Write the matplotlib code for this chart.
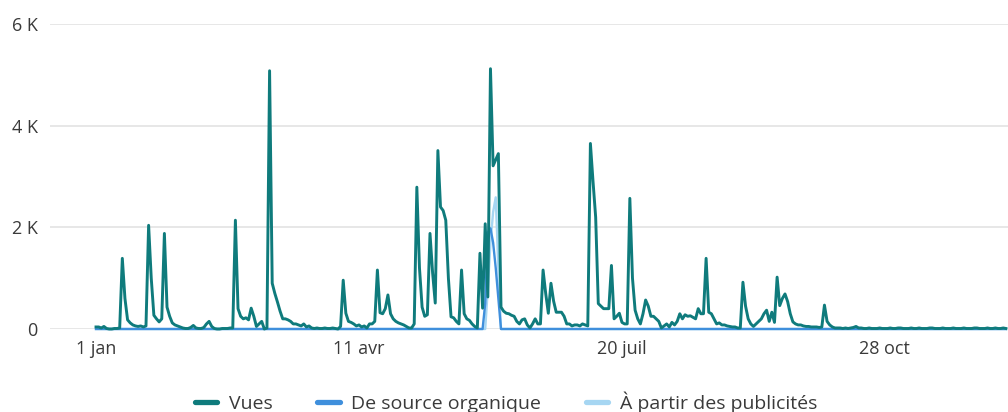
import matplotlib.pyplot as plt
from matplotlib.lines import Line2D

plt.rcParams['font.family'] = ['Open Sans', 'DejaVu Sans']

# daily views, day 0 = 1 jan
vues = [
    40, 40, 20, 50, 10, 0, 0, 10, 10, 20,
    1390, 600, 180, 120, 80, 60, 50, 60, 40, 60,
    2040, 1000, 270, 200, 140, 200, 1880, 430, 250, 120,
    80, 60, 40, 20, 10, 10, 30, 70, 20, 10,
    10, 30, 100, 150, 50, 10, 0, 0, 10, 10,
    10, 20, 20, 2140, 400, 250, 200, 220, 180, 410,
    250, 50, 100, 150, 0, 20, 5080, 900, 700, 530,
    350, 200, 200, 180, 150, 100, 100, 80, 60, 100,
    40, 60, 20, 10, 20, 10, 10, 20, 10, 10,
    20, 10, 0, 50, 960, 310, 150, 130, 100, 60,
    80, 40, 60, 20, 100, 100, 150, 1160, 320, 300,
    400, 670, 300, 200, 150, 120, 100, 80, 50, 20,
    20, 100, 2790, 1200, 430, 250, 280, 1880, 1100, 510,
    3510, 2400, 2330, 2140, 1000, 240, 220, 150, 100, 1160,
    300, 200, 170, 100, 50, 20, 1490, 410, 2070, 630,
    5120, 3210, 3330, 3450, 430, 350, 310, 300, 270, 250,
    150, 100, 180, 200, 80, 20, 100, 200, 100, 100,
    1160, 700, 310, 900, 550, 330, 330, 330, 250, 100,
    100, 60, 80, 80, 60, 100, 80, 60, 3650, 2900,
    2200, 500, 450, 400, 400, 400, 1250, 200, 250, 310,
    130, 100, 100, 2570, 1000, 370, 200, 100, 300, 570,
    450, 250, 250, 200, 150, 20, 60, 100, 40, 130,
    80, 150, 300, 200, 280, 250, 260, 230, 200, 400,
    300, 300, 1390, 330, 300, 200, 100, 120, 80, 80,
    60, 50, 40, 40, 20, 20, 920, 450, 200, 100,
    50, 100, 150, 200, 300, 370, 150, 330, 130, 1020,
    460, 600, 690, 540, 300, 140, 100, 80, 80, 60,
    50, 50, 40, 40, 40, 30, 40, 470, 150, 80,
    40, 20, 20, 20, 10, 20, 10, 20, 30, 50,
    20, 20, 10, 10, 20, 10, 10, 10, 20, 10,
    10, 10, 20, 10, 10, 20, 20, 10, 10, 10,
    20, 10, 10, 20, 10, 10, 10, 20, 20, 10,
    10, 10, 20, 10, 10, 10, 20, 10, 10, 10,
    20, 10, 10, 10, 20, 20, 10, 10, 10, 20,
    10, 10, 20, 10, 10, 20, 10,
]
days = list(range(len(vues)))

organic_days = [0, 147, 148, 149, 150, 151, 152, 153, 154, 346]
organic = [0, 0, 500, 1900, 1980, 1700, 1200, 600, 0, 0]

ads_days = [0, 148, 149, 150, 151, 152, 153, 154, 346]
ads = [0, 0, 800, 1700, 2300, 2590, 1200, 0, 0]

tick_days = [0, 100, 200, 300]
tick_labels = ['1 jan', '11 avr', '20 juil', '28 oct']
y_ticks = [0, 2000, 4000, 6000]
y_labels = ['0', '2 K', '4 K', '6 K']

c_vues = '#0f7b7c'
c_org = '#3f8fdc'
c_ads = '#a6d6f2'

fig = plt.figure(figsize=(10.08, 4.12), dpi=100)
ax = fig.add_axes([50 / 1008, 1 - 329 / 412, 958 / 1008, 305 / 412])

ax.plot(ads_days, ads, color=c_ads, lw=1.7, clip_on=False, zorder=2)
ax.plot(organic_days, organic, color=c_org, lw=1.7, clip_on=False, zorder=3)
ax.plot(days, vues, color=c_vues, lw=2.1, clip_on=False, zorder=4)

ax.set_xlim(-17.5, 346.8)
ax.set_ylim(0, 6000)
ax.set_xticks(tick_days)
ax.set_xticklabels(tick_labels)
ax.set_yticks(y_ticks)
ax.set_yticklabels(y_labels)
ax.grid(axis='y', color='#e3e3e3', lw=1.2)
ax.set_axisbelow(True)
for s in ax.spines.values():
    s.set_visible(False)
ax.tick_params(axis='both', length=0, labelsize=13, labelcolor='#3a3a3a')
ax.tick_params(axis='y', pad=9)
ax.tick_params(axis='x', pad=8)

handles = [Line2D([], [], color=c, lw=3.8, solid_capstyle='round') for c in (c_vues, c_org, c_ads)]
labels = ['Vues', 'De source organique', 'À partir des publicités']
leg = fig.legend(handles, labels, loc='center', bbox_to_anchor=(506 / 1008, 1 - 402 / 412),
                 ncol=3, frameon=False, fontsize=14, handlelength=1.15,
                 handletextpad=0.6, columnspacing=2.3)
for t in leg.get_texts():
    t.set_color('#3a3a3a')

fig.savefig('out.png', dpi=100)
